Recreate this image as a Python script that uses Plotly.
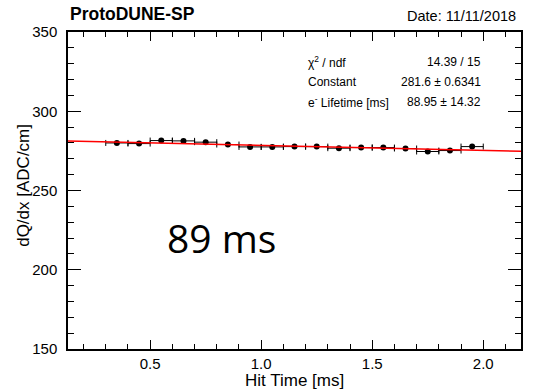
import numpy as np
import plotly.graph_objects as go

# Data
hit_time = [0.35, 0.45, 0.55, 0.65, 0.75, 0.85, 0.95, 1.05, 1.15, 1.25,
            1.35, 1.45, 1.55, 1.65, 1.75, 1.85, 1.95]
dqdx = [280.0, 279.6, 281.5, 281.3, 280.5, 279.0, 277.5, 277.5, 277.7, 277.7,
        276.7, 277.1, 277.1, 276.5, 274.6, 275.2, 277.7]
x_err = [0.05] * len(hit_time)
y_err = [0.8] * len(hit_time)

# Fit parameters
fit_constant = 281.6
fit_lifetime = 88.95
x_range = [0.13, 2.17]

xt = np.linspace(x_range[0], x_range[1], 200)
yt = fit_constant * np.exp(-xt / fit_lifetime)

fig = go.Figure()
fig.add_trace(go.Scatter(
    x=hit_time, y=dqdx, mode="markers",
    marker=dict(color="black", size=6),
    error_x=dict(type="data", array=x_err, color="black", thickness=1, width=3),
    error_y=dict(type="data", array=y_err, color="black", thickness=1, width=0),
    showlegend=False))
fig.add_trace(go.Scatter(
    x=xt, y=yt, mode="lines", line=dict(color="red", width=1.5),
    showlegend=False))

font = "Liberation Sans, Arial"
axis_common = dict(showline=True, linecolor="black", linewidth=1.5, mirror="ticks",
                   ticks="inside", tickcolor="black", showgrid=False, zeroline=False,
                   tickfont=dict(family=font, size=15, color="black"))

fig.update_xaxes(range=x_range, tickvals=[0.5, 1.0, 1.5, 2.0], tickformat=".1f",
                 ticklen=9, tickwidth=1.2,
                 minor=dict(dtick=0.1, tick0=0, ticks="inside", ticklen=5, tickcolor="black", tickwidth=1),
                 **axis_common)
fig.update_yaxes(range=[150, 350], tickvals=[150, 200, 250, 300, 350],
                 ticklen=13, tickwidth=1.2, ticklabelstandoff=6,
                 minor=dict(dtick=10, tick0=0, ticks="inside", ticklen=6, tickcolor="black", tickwidth=1),
                 **axis_common)

ann = []
ann.append(dict(text="<b>ProtoDUNE-SP</b>", x=0.0, y=1.058, xref="paper", yref="paper",
                xanchor="left", yanchor="middle", showarrow=False,
                font=dict(family=font, size=17.5, color="black")))
ann.append(dict(text="Date: 11/11/2018", x=(518-68)/453, y=1.052, xref="paper", yref="paper",
                xanchor="right", yanchor="middle", showarrow=False,
                font=dict(family=font, size=14.5, color="black")))
ann.append(dict(text="Hit Time [ms]", x=0.5, y=-0.1, xref="paper", yref="paper",
                xanchor="center", yanchor="middle", showarrow=False,
                font=dict(family=font, size=17, color="black")))
ann.append(dict(text="dQ/dx [ADC/cm]", x=-0.097, y=0.515, xref="paper", yref="paper",
                xanchor="center", yanchor="middle", showarrow=False, textangle=-90,
                font=dict(family=font, size=17, color="black")))

stat_rows = [("χ<sup>2</sup> / ndf", "14.39 / 15"),
             ("Constant", "281.6 ± 0.6341"),
             ("e<sup>-</sup> Lifetime [ms]", "88.95 ± 14.32")]
row_y = [0.906, 0.843, 0.778]
for (lab, val), yy in zip(stat_rows, row_y):
    ann.append(dict(text=lab, x=(306-68)/453, y=yy, xref="paper", yref="paper",
                    xanchor="left", yanchor="middle", showarrow=False,
                    font=dict(family=font, size=12, color="black")))
    ann.append(dict(text=val, x=(483-68)/453, y=yy, xref="paper", yref="paper",
                    xanchor="right", yanchor="middle", showarrow=False,
                    font=dict(family=font, size=12, color="black")))

ann.append(dict(text="89 ms", x=(165-68)/453, y=0.352, xref="paper", yref="paper",
                xanchor="left", yanchor="middle", showarrow=False,
                font=dict(family="Open Sans", size=39, color="black")))

fig.update_layout(width=542, height=392, margin=dict(l=68, r=21, t=31.5, b=43),
                  paper_bgcolor="white", plot_bgcolor="white", annotations=ann)

fig.write_html("out.html")
